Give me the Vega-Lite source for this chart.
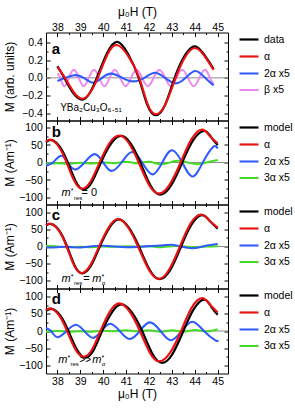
{
"$schema": "https://vega.github.io/schema/vega-lite/v6.json",
"padding": {"left": 2, "top": 4.5, "right": 0, "bottom": 0},
"background": "white",
"spacing": 0,
"bounds": "flush",
"config": {
 "font": "Liberation Sans",
 "view": {"stroke": "#000", "strokeWidth": 1},
 "axis": {"grid": false, "domain": false, "tickColor": "#000", "tickWidth": 1, "labelColor": "#000", "labelFontSize": 10.5, "labelOverlap": false, "labelFlush": false, "titleFontSize": 12, "titleFontWeight": "normal", "titleColor": "#000"},
 "legend": {"symbolType": "stroke", "symbolStrokeWidth": 2, "symbolSize": 360, "labelFontSize": 10.5, "labelColor": "#000", "rowPadding": -6, "padding": 0, "labelOffset": 4}
},
"datasets": {
 "a": [
  {"x":38.0,"y":0.05,"s":"β x5"},{"x":38.12,"y":0,"s":"β x5"},{"x":38.3,"y":-0.095,"s":"β x5"},{"x":38.5,"y":0,"s":"β x5"},{"x":38.72,"y":0.09,"s":"β x5"},{"x":38.93,"y":0,"s":"β x5"},{"x":39.15,"y":-0.095,"s":"β x5"},{"x":39.37,"y":0,"s":"β x5"},{"x":39.6,"y":0.09,"s":"β x5"},{"x":39.82,"y":0,"s":"β x5"},{"x":40.05,"y":-0.095,"s":"β x5"},{"x":40.28,"y":0,"s":"β x5"},{"x":40.5,"y":0.09,"s":"β x5"},{"x":40.74,"y":0,"s":"β x5"},{"x":40.98,"y":-0.095,"s":"β x5"},{"x":41.22,"y":0,"s":"β x5"},{"x":41.46,"y":0.09,"s":"β x5"},{"x":41.7,"y":0,"s":"β x5"},{"x":41.95,"y":-0.095,"s":"β x5"},{"x":42.2,"y":0,"s":"β x5"},{"x":42.45,"y":0.09,"s":"β x5"},{"x":42.7,"y":0,"s":"β x5"},{"x":42.95,"y":-0.095,"s":"β x5"},{"x":43.2,"y":0,"s":"β x5"},{"x":43.45,"y":0.09,"s":"β x5"},{"x":43.7,"y":0,"s":"β x5"},{"x":43.95,"y":-0.095,"s":"β x5"},{"x":44.2,"y":0,"s":"β x5"},{"x":44.45,"y":0.09,"s":"β x5"},{"x":44.66,"y":0,"s":"β x5"},{"x":44.82,"y":-0.07,"s":"β x5"},
  {"x":38.0,"y":-0.035,"s":"2α x5"},{"x":38.35,"y":0,"s":"2α x5"},{"x":38.75,"y":0.03,"s":"2α x5"},{"x":39.15,"y":0,"s":"2α x5"},{"x":39.57,"y":-0.055,"s":"2α x5"},{"x":39.95,"y":0,"s":"2α x5"},{"x":40.36,"y":0.047,"s":"2α x5"},{"x":40.83,"y":0,"s":"2α x5"},{"x":41.3,"y":-0.04,"s":"2α x5"},{"x":41.8,"y":0,"s":"2α x5"},{"x":42.25,"y":0.058,"s":"2α x5"},{"x":42.7,"y":0,"s":"2α x5"},{"x":43.16,"y":-0.062,"s":"2α x5"},{"x":43.6,"y":0,"s":"2α x5"},{"x":44.03,"y":0.077,"s":"2α x5"},{"x":44.45,"y":0,"s":"2α x5"},{"x":44.82,"y":-0.085,"s":"2α x5"},
  {"x":38.0,"y":0.13,"s":"data"},{"x":38.3,"y":0,"s":"data"},{"x":38.7,"y":-0.175,"s":"data"},{"x":39.1,"y":-0.245,"s":"data"},{"x":39.41,"y":-0.17,"s":"data"},{"x":39.72,"y":0,"s":"data"},{"x":40.17,"y":0.28,"s":"data"},{"x":40.62,"y":0.405,"s":"data"},{"x":41.08,"y":0.27,"s":"data"},{"x":41.55,"y":0,"s":"data"},{"x":41.92,"y":-0.3,"s":"data"},{"x":42.3,"y":-0.42,"s":"data"},{"x":42.71,"y":-0.3,"s":"data"},{"x":43.12,"y":0,"s":"data"},{"x":43.56,"y":0.25,"s":"data"},{"x":44.0,"y":0.355,"s":"data"},{"x":44.41,"y":0.26,"s":"data"},{"x":44.82,"y":0.1,"s":"data"},
  {"x":38.0,"y":0.12,"s":"α"},{"x":38.33,"y":0,"s":"α"},{"x":38.72,"y":-0.165,"s":"α"},{"x":39.1,"y":-0.235,"s":"α"},{"x":39.43,"y":-0.165,"s":"α"},{"x":39.76,"y":0,"s":"α"},{"x":40.18,"y":0.26,"s":"α"},{"x":40.6,"y":0.37,"s":"α"},{"x":41.08,"y":0.25,"s":"α"},{"x":41.57,"y":0,"s":"α"},{"x":41.93,"y":-0.29,"s":"α"},{"x":42.3,"y":-0.41,"s":"α"},{"x":42.73,"y":-0.29,"s":"α"},{"x":43.16,"y":0,"s":"α"},{"x":43.58,"y":0.235,"s":"α"},{"x":44.0,"y":0.335,"s":"α"},{"x":44.41,"y":0.25,"s":"α"},{"x":44.82,"y":0.09,"s":"α"}
 ],
 "b": [
  {"x":37.5,"y":-5,"s":"3α x5"},{"x":38.0,"y":-2,"s":"3α x5"},{"x":38.5,"y":-4,"s":"3α x5"},{"x":39.0,"y":-1,"s":"3α x5"},{"x":39.5,"y":-3,"s":"3α x5"},{"x":40.0,"y":0,"s":"3α x5"},{"x":40.5,"y":-2,"s":"3α x5"},{"x":41.0,"y":2,"s":"3α x5"},{"x":41.5,"y":-2,"s":"3α x5"},{"x":42.0,"y":2,"s":"3α x5"},{"x":42.5,"y":-5,"s":"3α x5"},{"x":43.0,"y":2,"s":"3α x5"},{"x":43.3,"y":5,"s":"3α x5"},{"x":43.7,"y":0,"s":"3α x5"},{"x":44.1,"y":-5,"s":"3α x5"},{"x":44.5,"y":0,"s":"3α x5"},{"x":45.0,"y":7,"s":"3α x5"},
  {"x":37.5,"y":-9,"s":"2α x5"},{"x":37.8,"y":0,"s":"2α x5"},{"x":38.15,"y":19,"s":"2α x5"},{"x":38.45,"y":0,"s":"2α x5"},{"x":38.77,"y":-20,"s":"2α x5"},{"x":39.18,"y":0,"s":"2α x5"},{"x":39.62,"y":24,"s":"2α x5"},{"x":40.0,"y":0,"s":"2α x5"},{"x":40.36,"y":-24,"s":"2α x5"},{"x":40.8,"y":0,"s":"2α x5"},{"x":41.25,"y":30,"s":"2α x5"},{"x":41.7,"y":0,"s":"2α x5"},{"x":42.15,"y":-34,"s":"2α x5"},{"x":42.58,"y":0,"s":"2α x5"},{"x":43.0,"y":35,"s":"2α x5"},{"x":43.45,"y":0,"s":"2α x5"},{"x":43.9,"y":-40,"s":"2α x5"},{"x":44.35,"y":0,"s":"2α x5"},{"x":44.8,"y":44,"s":"2α x5"},{"x":45.0,"y":40,"s":"2α x5"},
  {"x":37.5,"y":58,"s":"model"},{"x":37.75,"y":64,"s":"model"},{"x":38.1,"y":45,"s":"model"},{"x":38.45,"y":0,"s":"model"},{"x":38.8,"y":-54,"s":"model"},{"x":39.15,"y":-77,"s":"model"},{"x":39.52,"y":-54,"s":"model"},{"x":39.9,"y":0,"s":"model"},{"x":40.34,"y":54,"s":"model"},{"x":40.78,"y":76,"s":"model"},{"x":41.2,"y":54,"s":"model"},{"x":41.62,"y":0,"s":"model"},{"x":42.06,"y":-65,"s":"model"},{"x":42.5,"y":-92,"s":"model"},{"x":42.97,"y":-65,"s":"model"},{"x":43.45,"y":0,"s":"model"},{"x":43.93,"y":64,"s":"model"},{"x":44.42,"y":90,"s":"model"},{"x":44.72,"y":72,"s":"model"},{"x":45.0,"y":50,"s":"model"},
  {"x":37.5,"y":60,"s":"α"},{"x":37.72,"y":65,"s":"α"},{"x":38.06,"y":45,"s":"α"},{"x":38.4,"y":0,"s":"α"},{"x":38.74,"y":-53,"s":"α"},{"x":39.08,"y":-75,"s":"α"},{"x":39.46,"y":-53,"s":"α"},{"x":39.84,"y":0,"s":"α"},{"x":40.27,"y":55,"s":"α"},{"x":40.7,"y":77,"s":"α"},{"x":41.12,"y":55,"s":"α"},{"x":41.55,"y":0,"s":"α"},{"x":41.99,"y":-63,"s":"α"},{"x":42.43,"y":-89,"s":"α"},{"x":42.9,"y":-63,"s":"α"},{"x":43.38,"y":0,"s":"α"},{"x":43.85,"y":66,"s":"α"},{"x":44.32,"y":94,"s":"α"},{"x":44.66,"y":75,"s":"α"},{"x":45.0,"y":55,"s":"α"}
 ],
 "c": [
  {"x":37.5,"y":2,"s":"3α x5"},{"x":38.0,"y":0,"s":"3α x5"},{"x":38.5,"y":-2,"s":"3α x5"},{"x":39.0,"y":-1,"s":"3α x5"},{"x":39.5,"y":-2,"s":"3α x5"},{"x":40.0,"y":0,"s":"3α x5"},{"x":40.5,"y":-1,"s":"3α x5"},{"x":41.0,"y":1,"s":"3α x5"},{"x":41.5,"y":-1,"s":"3α x5"},{"x":42.0,"y":1,"s":"3α x5"},{"x":42.5,"y":-2,"s":"3α x5"},{"x":43.0,"y":1,"s":"3α x5"},{"x":43.5,"y":0,"s":"3α x5"},{"x":44.0,"y":-2,"s":"3α x5"},{"x":44.5,"y":0,"s":"3α x5"},{"x":45.0,"y":1,"s":"3α x5"},
  {"x":37.5,"y":-3,"s":"2α x5"},{"x":38.0,"y":-2,"s":"2α x5"},{"x":38.5,"y":-1,"s":"2α x5"},{"x":39.0,"y":-3,"s":"2α x5"},{"x":39.5,"y":1,"s":"2α x5"},{"x":40.0,"y":2,"s":"2α x5"},{"x":40.5,"y":0,"s":"2α x5"},{"x":41.0,"y":-2,"s":"2α x5"},{"x":41.5,"y":-1,"s":"2α x5"},{"x":42.0,"y":1,"s":"2α x5"},{"x":42.5,"y":3,"s":"2α x5"},{"x":43.0,"y":5,"s":"2α x5"},{"x":43.4,"y":0,"s":"2α x5"},{"x":43.9,"y":-5,"s":"2α x5"},{"x":44.4,"y":1,"s":"2α x5"},{"x":45.0,"y":7,"s":"2α x5"},
  {"x":37.5,"y":61,"s":"model"},{"x":37.74,"y":65,"s":"model"},{"x":38.08,"y":46,"s":"model"},{"x":38.42,"y":0,"s":"model"},{"x":38.75,"y":-55,"s":"model"},{"x":39.08,"y":-78,"s":"model"},{"x":39.47,"y":-55,"s":"model"},{"x":39.85,"y":0,"s":"model"},{"x":40.27,"y":55,"s":"model"},{"x":40.68,"y":79,"s":"model"},{"x":41.12,"y":55,"s":"model"},{"x":41.56,"y":0,"s":"model"},{"x":42.02,"y":-67,"s":"model"},{"x":42.47,"y":-95,"s":"model"},{"x":42.94,"y":-67,"s":"model"},{"x":43.4,"y":0,"s":"model"},{"x":43.86,"y":64,"s":"model"},{"x":44.32,"y":91,"s":"model"},{"x":44.67,"y":73,"s":"model"},{"x":45.0,"y":52,"s":"model"},
  {"x":37.5,"y":62,"s":"α"},{"x":37.72,"y":66,"s":"α"},{"x":38.06,"y":46,"s":"α"},{"x":38.4,"y":0,"s":"α"},{"x":38.72,"y":-54,"s":"α"},{"x":39.05,"y":-77,"s":"α"},{"x":39.44,"y":-54,"s":"α"},{"x":39.82,"y":0,"s":"α"},{"x":40.24,"y":56,"s":"α"},{"x":40.65,"y":80,"s":"α"},{"x":41.08,"y":56,"s":"α"},{"x":41.52,"y":0,"s":"α"},{"x":41.98,"y":-66,"s":"α"},{"x":42.43,"y":-94,"s":"α"},{"x":42.89,"y":-66,"s":"α"},{"x":43.35,"y":0,"s":"α"},{"x":43.8,"y":65,"s":"α"},{"x":44.25,"y":93,"s":"α"},{"x":44.63,"y":76,"s":"α"},{"x":45.0,"y":55,"s":"α"}
 ],
 "d": [
  {"x":37.5,"y":-2,"s":"3α x5"},{"x":38.0,"y":0,"s":"3α x5"},{"x":38.5,"y":-2,"s":"3α x5"},{"x":39.0,"y":-1,"s":"3α x5"},{"x":39.5,"y":-2,"s":"3α x5"},{"x":40.0,"y":1,"s":"3α x5"},{"x":40.5,"y":-1,"s":"3α x5"},{"x":41.0,"y":2,"s":"3α x5"},{"x":41.5,"y":-1,"s":"3α x5"},{"x":42.0,"y":2,"s":"3α x5"},{"x":42.5,"y":-2,"s":"3α x5"},{"x":43.0,"y":2,"s":"3α x5"},{"x":43.5,"y":-2,"s":"3α x5"},{"x":44.0,"y":3,"s":"3α x5"},{"x":44.5,"y":-1,"s":"3α x5"},{"x":45.0,"y":5,"s":"3α x5"},
  {"x":37.5,"y":9,"s":"2α x5"},{"x":37.72,"y":0,"s":"2α x5"},{"x":38.0,"y":-18,"s":"2α x5"},{"x":38.4,"y":0,"s":"2α x5"},{"x":38.8,"y":18,"s":"2α x5"},{"x":39.17,"y":0,"s":"2α x5"},{"x":39.55,"y":-20,"s":"2α x5"},{"x":39.92,"y":0,"s":"2α x5"},{"x":40.3,"y":21,"s":"2α x5"},{"x":40.72,"y":0,"s":"2α x5"},{"x":41.15,"y":-23,"s":"2α x5"},{"x":41.6,"y":0,"s":"2α x5"},{"x":42.03,"y":25,"s":"2α x5"},{"x":42.5,"y":0,"s":"2α x5"},{"x":42.95,"y":-27,"s":"2α x5"},{"x":43.42,"y":0,"s":"2α x5"},{"x":43.9,"y":27,"s":"2α x5"},{"x":44.4,"y":0,"s":"2α x5"},{"x":44.9,"y":-27,"s":"2α x5"},{"x":45.0,"y":-26,"s":"2α x5"},
  {"x":37.5,"y":58,"s":"model"},{"x":37.75,"y":64,"s":"model"},{"x":38.12,"y":45,"s":"model"},{"x":38.48,"y":0,"s":"model"},{"x":38.85,"y":-54,"s":"model"},{"x":39.22,"y":-77,"s":"model"},{"x":39.59,"y":-54,"s":"model"},{"x":39.95,"y":0,"s":"model"},{"x":40.38,"y":54,"s":"model"},{"x":40.8,"y":77,"s":"model"},{"x":41.25,"y":54,"s":"model"},{"x":41.7,"y":0,"s":"model"},{"x":42.14,"y":-65,"s":"model"},{"x":42.58,"y":-92,"s":"model"},{"x":43.04,"y":-65,"s":"model"},{"x":43.5,"y":0,"s":"model"},{"x":43.96,"y":64,"s":"model"},{"x":44.42,"y":91,"s":"model"},{"x":44.72,"y":70,"s":"model"},{"x":45.0,"y":47,"s":"model"},
  {"x":37.5,"y":60,"s":"α"},{"x":37.72,"y":65,"s":"α"},{"x":38.07,"y":45,"s":"α"},{"x":38.42,"y":0,"s":"α"},{"x":38.78,"y":-53,"s":"α"},{"x":39.15,"y":-75,"s":"α"},{"x":39.52,"y":-53,"s":"α"},{"x":39.88,"y":0,"s":"α"},{"x":40.29,"y":56,"s":"α"},{"x":40.7,"y":80,"s":"α"},{"x":41.15,"y":56,"s":"α"},{"x":41.6,"y":0,"s":"α"},{"x":42.03,"y":-62,"s":"α"},{"x":42.45,"y":-88,"s":"α"},{"x":42.93,"y":-62,"s":"α"},{"x":43.4,"y":0,"s":"α"},{"x":43.86,"y":67,"s":"α"},{"x":44.32,"y":95,"s":"α"},{"x":44.67,"y":76,"s":"α"},{"x":45.0,"y":54,"s":"α"}
 ]
},
"vconcat": [
 {"width": 182, "height": 88,
  "layer": [
   {"data": {"values": [{"z": 0}]}, "mark": {"type": "rule", "color": "#8c8c8c", "strokeWidth": 1},
    "encoding": {"y": {"field": "z", "type": "quantitative", "scale": {"domain": [-0.48, 0.51], "nice": false, "zero": false},
      "axis": {"orient": "right", "values": [-0.4,-0.2,0,0.2,0.4], "labels": false, "title": null, "offset": -4, "tickSize": 4}}}},
   {"data": {"name": "a"}, "mark": {"type": "line", "interpolate": "natural"},
    "encoding": {
     "x": {"field": "x", "type": "quantitative", "scale": {"domain": [37.5, 45.45], "nice": false, "zero": false},
       "axis": {"orient": "bottom", "values": [38,39,40,41,42,43,44,45], "labels": false, "title": null, "offset": -4, "tickSize": 4}},
     "y": {"field": "y", "type": "quantitative", "scale": {"domain": [-0.48, 0.51], "nice": false, "zero": false},
       "axis": {"orient": "left", "values": [-0.4,-0.2,0,0.2,0.4], "format": ".1f", "labelPadding": 3.7, "title": "M (arb. units)", "titleX": -36.7, "titleY": 44, "titleBaseline": "alphabetic", "offset": -4, "tickSize": 4}},
     "color": {"field": "s", "type": "nominal", "scale": {"domain": ["data", "α", "2α x5", "β x5"], "range": ["#000000", "#ee1111", "#2f5bff", "#ee88ee"]}, "legend": {"title": null, "orient": "none", "legendX": 192, "legendY": -4}},
     "strokeWidth": {"field": "s", "type": "nominal", "scale": {"domain": ["data", "α", "2α x5", "β x5"], "range": [2.2, 2, 1.6, 1.8]}, "legend": null}
    }},
   {"data": {"values": [{"x": 37.75, "y": 0.265, "t": "a"}]}, "mark": {"type": "text", "fontWeight": "bold", "fontSize": 15, "align": "left", "baseline": "alphabetic"},
    "encoding": {
     "x": {"field": "x", "type": "quantitative", "scale": {"domain": [37.5, 45.45], "nice": false, "zero": false},
       "axis": {"orient": "top", "values": [38,39,40,41,42,43,44,45], "format": "d", "labelPadding": 0.3, "title": "μ₀H (T)", "titleX": 91, "titleY": -21, "titleBaseline": "alphabetic", "offset": -4, "tickSize": 4}},
     "y": {"field": "y", "type": "quantitative", "scale": {"domain": [-0.48, 0.51], "nice": false, "zero": false},
       "axis": {"orient": "right", "values": [-0.3,-0.1,0.1,0.3], "labels": false, "title": null, "offset": -2, "tickSize": 2}},
     "text": {"field": "t"}}},
   {"data": {"values": [{"x": 38.12, "y": -0.377, "t": "YBa₂Cu₃O₆.₅₁"}]}, "mark": {"type": "text", "fontSize": 10, "align": "left", "baseline": "alphabetic"},
    "encoding": {
     "x": {"field": "x", "type": "quantitative", "scale": {"domain": [37.5, 45.45], "nice": false, "zero": false},
       "axis": {"orient": "bottom", "values": [38.5,39.5,40.5,41.5,42.5,43.5,44.5], "labels": false, "title": null, "offset": -2, "tickSize": 2}},
     "y": {"field": "y", "type": "quantitative", "scale": {"domain": [-0.48, 0.51], "nice": false, "zero": false},
       "axis": {"orient": "left", "values": [-0.3,-0.1,0.1,0.3], "labels": false, "title": null, "offset": -2, "tickSize": 2}},
     "text": {"field": "t"}}},
   {"data": {"values": [{"x": 38.0, "y": 0}]}, "mark": {"type": "point", "opacity": 0},
    "encoding": {
     "x": {"field": "x", "type": "quantitative", "scale": {"domain": [37.5, 45.45], "nice": false, "zero": false},
       "axis": {"orient": "top", "values": [38.5,39.5,40.5,41.5,42.5,43.5,44.5], "labels": false, "title": null, "offset": -2, "tickSize": 2}},
     "y": {"field": "y", "type": "quantitative", "scale": {"domain": [-0.48, 0.51], "nice": false, "zero": false}, "axis": null}}}
  ],
  "resolve": {"axis": {"x": "independent", "y": "independent"}}
 },
 {"width": 182, "height": 84,
  "layer": [
   {"data": {"values": [{"z": 0}]}, "mark": {"type": "rule", "color": "#8c8c8c", "strokeWidth": 1},
    "encoding": {"y": {"field": "z", "type": "quantitative", "scale": {"domain": [-120, 120], "nice": false, "zero": false},
      "axis": {"orient": "right", "values": [-100,-50,0,50,100], "labels": false, "title": null, "offset": -4, "tickSize": 4}}}},
   {"data": {"name": "b"}, "mark": {"type": "line", "interpolate": "natural"},
    "encoding": {
     "x": {"field": "x", "type": "quantitative", "scale": {"domain": [37.5, 45.45], "nice": false, "zero": false},
       "axis": {"orient": "bottom", "values": [38,39,40,41,42,43,44,45], "labels": false, "title": null, "offset": -4, "tickSize": 4}},
     "y": {"field": "y", "type": "quantitative", "scale": {"domain": [-120, 120], "nice": false, "zero": false},
       "axis": {"orient": "left", "values": [-100,-50,0,50,100], "labelPadding": 3.7, "title": "M (Am⁻¹)", "titleX": -36.7, "titleY": 42, "titleBaseline": "alphabetic", "offset": -4, "tickSize": 4}},
     "color": {"field": "s", "type": "nominal", "scale": {"domain": ["model", "α", "2α x5", "3α x5"], "range": ["#000000", "#ee1111", "#2f5bff", "#44dd22"]}, "legend": {"title": null, "orient": "none", "legendX": 192, "legendY": -4}},
     "strokeWidth": {"field": "s", "type": "nominal", "scale": {"domain": ["model", "α", "2α x5", "3α x5"], "range": [2.2, 2, 1.6, 1.6]}, "legend": null}
    }},
   {"data": {"values": [{"x": 37.75, "y": 74, "t": "b"}]}, "mark": {"type": "text", "fontWeight": "bold", "fontSize": 15, "align": "left", "baseline": "alphabetic"},
    "encoding": {
     "x": {"field": "x", "type": "quantitative", "scale": {"domain": [37.5, 45.45], "nice": false, "zero": false},
       "axis": {"orient": "top", "values": [38,39,40,41,42,43,44,45], "labels": false, "title": null, "offset": -4, "tickSize": 4}},
     "y": {"field": "y", "type": "quantitative", "scale": {"domain": [-120, 120], "nice": false, "zero": false},
       "axis": {"orient": "right", "values": [-75,-25,25,75], "labels": false, "title": null, "offset": -2, "tickSize": 2}},
     "text": {"field": "t"}}},
   {"data": {"values": [{"x": 38.18, "y": -97, "t": "m"}]}, "mark": {"type": "text", "fontSize": 11, "fontStyle": "italic", "align": "left", "baseline": "alphabetic"},
    "encoding": {
     "x": {"field": "x", "type": "quantitative", "scale": {"domain": [37.5, 45.45], "nice": false, "zero": false},
       "axis": {"orient": "bottom", "values": [38.5,39.5,40.5,41.5,42.5,43.5,44.5], "labels": false, "title": null, "offset": -2, "tickSize": 2}},
     "y": {"field": "y", "type": "quantitative", "scale": {"domain": [-120, 120], "nice": false, "zero": false},
       "axis": {"orient": "left", "values": [-75,-25,25,75], "labels": false, "title": null, "offset": -2, "tickSize": 2}},
     "text": {"field": "t"}}},
   {"data": {"values": [{"x": 38.58, "y": -87, "t": "*"}]}, "mark": {"type": "text", "fontSize": 7, "align": "left", "baseline": "alphabetic"},
    "encoding": {
     "x": {"field": "x", "type": "quantitative", "scale": {"domain": [37.5, 45.45], "nice": false, "zero": false},
       "axis": {"orient": "top", "values": [38.5,39.5,40.5,41.5,42.5,43.5,44.5], "labels": false, "title": null, "offset": -2, "tickSize": 2}},
     "y": {"field": "y", "type": "quantitative", "scale": {"domain": [-120, 120], "nice": false, "zero": false}, "axis": null},
     "text": {"field": "t"}}},
   {"data": {"values": [{"x": 38.72, "y": -106, "t": "res"}]}, "mark": {"type": "text", "fontSize": 6, "align": "left", "baseline": "alphabetic"},
    "encoding": {"x": {"field": "x", "type": "quantitative", "scale": {"domain": [37.5, 45.45], "nice": false, "zero": false}, "axis": null}, "y": {"field": "y", "type": "quantitative", "scale": {"domain": [-120, 120], "nice": false, "zero": false}, "axis": null}, "text": {"field": "t"}}},
   {"data": {"values": [{"x": 39.05, "y": -97, "t": "= 0"}]}, "mark": {"type": "text", "fontSize": 11, "align": "left", "baseline": "alphabetic"},
    "encoding": {"x": {"field": "x", "type": "quantitative", "scale": {"domain": [37.5, 45.45], "nice": false, "zero": false}, "axis": null}, "y": {"field": "y", "type": "quantitative", "scale": {"domain": [-120, 120], "nice": false, "zero": false}, "axis": null}, "text": {"field": "t"}}}
  ],
  "resolve": {"axis": {"x": "independent", "y": "independent"}}
 },
 {"width": 182, "height": 84,
  "layer": [
   {"data": {"values": [{"z": 0}]}, "mark": {"type": "rule", "color": "#8c8c8c", "strokeWidth": 1},
    "encoding": {"y": {"field": "z", "type": "quantitative", "scale": {"domain": [-122, 122], "nice": false, "zero": false},
      "axis": {"orient": "right", "values": [-100,-50,0,50,100], "labels": false, "title": null, "offset": -4, "tickSize": 4}}}},
   {"data": {"name": "c"}, "mark": {"type": "line", "interpolate": "natural"},
    "encoding": {
     "x": {"field": "x", "type": "quantitative", "scale": {"domain": [37.5, 45.45], "nice": false, "zero": false},
       "axis": {"orient": "bottom", "values": [38,39,40,41,42,43,44,45], "labels": false, "title": null, "offset": -4, "tickSize": 4}},
     "y": {"field": "y", "type": "quantitative", "scale": {"domain": [-122, 122], "nice": false, "zero": false},
       "axis": {"orient": "left", "values": [-100,-50,0,50,100], "labelPadding": 3.7, "title": "M (Am⁻¹)", "titleX": -36.7, "titleY": 42, "titleBaseline": "alphabetic", "offset": -4, "tickSize": 4}},
     "color": {"field": "s", "type": "nominal", "scale": {"domain": ["model", "α", "2α x5", "3α x5"], "range": ["#000000", "#ee1111", "#2f5bff", "#44dd22"]}, "legend": {"title": null, "orient": "none", "legendX": 192, "legendY": -4}},
     "strokeWidth": {"field": "s", "type": "nominal", "scale": {"domain": ["model", "α", "2α x5", "3α x5"], "range": [2.2, 2, 1.6, 1.6]}, "legend": null}
    }},
   {"data": {"values": [{"x": 37.75, "y": 77, "t": "c"}]}, "mark": {"type": "text", "fontWeight": "bold", "fontSize": 15, "align": "left", "baseline": "alphabetic"},
    "encoding": {
     "x": {"field": "x", "type": "quantitative", "scale": {"domain": [37.5, 45.45], "nice": false, "zero": false},
       "axis": {"orient": "top", "values": [38,39,40,41,42,43,44,45], "labels": false, "title": null, "offset": -4, "tickSize": 4}},
     "y": {"field": "y", "type": "quantitative", "scale": {"domain": [-122, 122], "nice": false, "zero": false},
       "axis": {"orient": "right", "values": [-75,-25,25,75], "labels": false, "title": null, "offset": -2, "tickSize": 2}},
     "text": {"field": "t"}}},
   {"data": {"values": [{"x": 38.18, "y": -104, "t": "m"}, {"x": 39.52, "y": -104, "t": "m"}]}, "mark": {"type": "text", "fontSize": 11, "fontStyle": "italic", "align": "left", "baseline": "alphabetic"},
    "encoding": {
     "x": {"field": "x", "type": "quantitative", "scale": {"domain": [37.5, 45.45], "nice": false, "zero": false},
       "axis": {"orient": "bottom", "values": [38.5,39.5,40.5,41.5,42.5,43.5,44.5], "labels": false, "title": null, "offset": -2, "tickSize": 2}},
     "y": {"field": "y", "type": "quantitative", "scale": {"domain": [-122, 122], "nice": false, "zero": false},
       "axis": {"orient": "left", "values": [-75,-25,25,75], "labels": false, "title": null, "offset": -2, "tickSize": 2}},
     "text": {"field": "t"}}},
   {"data": {"values": [{"x": 38.58, "y": -94, "t": "*"}, {"x": 39.92, "y": -94, "t": "*"}]}, "mark": {"type": "text", "fontSize": 7, "align": "left", "baseline": "alphabetic"},
    "encoding": {
     "x": {"field": "x", "type": "quantitative", "scale": {"domain": [37.5, 45.45], "nice": false, "zero": false},
       "axis": {"orient": "top", "values": [38.5,39.5,40.5,41.5,42.5,43.5,44.5], "labels": false, "title": null, "offset": -2, "tickSize": 2}},
     "y": {"field": "y", "type": "quantitative", "scale": {"domain": [-122, 122], "nice": false, "zero": false}, "axis": null},
     "text": {"field": "t"}}},
   {"data": {"values": [{"x": 38.72, "y": -113, "t": "res"}, {"x": 39.94, "y": -113, "t": "α"}]}, "mark": {"type": "text", "fontSize": 6, "align": "left", "baseline": "alphabetic"},
    "encoding": {"x": {"field": "x", "type": "quantitative", "scale": {"domain": [37.5, 45.45], "nice": false, "zero": false}, "axis": null}, "y": {"field": "y", "type": "quantitative", "scale": {"domain": [-122, 122], "nice": false, "zero": false}, "axis": null}, "text": {"field": "t"}}},
   {"data": {"values": [{"x": 39.13, "y": -104, "t": "="}]}, "mark": {"type": "text", "fontSize": 11, "align": "left", "baseline": "alphabetic"},
    "encoding": {"x": {"field": "x", "type": "quantitative", "scale": {"domain": [37.5, 45.45], "nice": false, "zero": false}, "axis": null}, "y": {"field": "y", "type": "quantitative", "scale": {"domain": [-122, 122], "nice": false, "zero": false}, "axis": null}, "text": {"field": "t"}}}
  ],
  "resolve": {"axis": {"x": "independent", "y": "independent"}}
 },
 {"width": 182, "height": 85,
  "layer": [
   {"data": {"values": [{"z": 0}]}, "mark": {"type": "rule", "color": "#8c8c8c", "strokeWidth": 1},
    "encoding": {"y": {"field": "z", "type": "quantitative", "scale": {"domain": [-123, 123], "nice": false, "zero": false},
      "axis": {"orient": "right", "values": [-100,-50,0,50,100], "labels": false, "title": null, "offset": -4, "tickSize": 4}}}},
   {"data": {"name": "d"}, "mark": {"type": "line", "interpolate": "natural"},
    "encoding": {
     "x": {"field": "x", "type": "quantitative", "scale": {"domain": [37.5, 45.45], "nice": false, "zero": false},
       "axis": {"orient": "bottom", "values": [38,39,40,41,42,43,44,45], "format": "d", "labelPadding": 3.2, "title": "μ₀H (T)", "titleX": 91, "titleY": 28.3, "titleBaseline": "alphabetic", "offset": -4, "tickSize": 4}},
     "y": {"field": "y", "type": "quantitative", "scale": {"domain": [-123, 123], "nice": false, "zero": false},
       "axis": {"orient": "left", "values": [-100,-50,0,50,100], "labelPadding": 3.7, "title": "M (Am⁻¹)", "titleX": -36.7, "titleY": 42.5, "titleBaseline": "alphabetic", "offset": -4, "tickSize": 4}},
     "color": {"field": "s", "type": "nominal", "scale": {"domain": ["model", "α", "2α x5", "3α x5"], "range": ["#000000", "#ee1111", "#2f5bff", "#44dd22"]}, "legend": {"title": null, "orient": "none", "legendX": 192, "legendY": -4}},
     "strokeWidth": {"field": "s", "type": "nominal", "scale": {"domain": ["model", "α", "2α x5", "3α x5"], "range": [2.2, 2, 1.6, 1.6]}, "legend": null}
    }},
   {"data": {"values": [{"x": 37.75, "y": 79, "t": "d"}]}, "mark": {"type": "text", "fontWeight": "bold", "fontSize": 15, "align": "left", "baseline": "alphabetic"},
    "encoding": {
     "x": {"field": "x", "type": "quantitative", "scale": {"domain": [37.5, 45.45], "nice": false, "zero": false},
       "axis": {"orient": "top", "values": [38,39,40,41,42,43,44,45], "labels": false, "title": null, "offset": -4, "tickSize": 4}},
     "y": {"field": "y", "type": "quantitative", "scale": {"domain": [-123, 123], "nice": false, "zero": false},
       "axis": {"orient": "right", "values": [-75,-25,25,75], "labels": false, "title": null, "offset": -2, "tickSize": 2}},
     "text": {"field": "t"}}},
   {"data": {"values": [{"x": 38.04, "y": -93, "t": "m"}, {"x": 39.52, "y": -93, "t": "m"}]}, "mark": {"type": "text", "fontSize": 11, "fontStyle": "italic", "align": "left", "baseline": "alphabetic"},
    "encoding": {
     "x": {"field": "x", "type": "quantitative", "scale": {"domain": [37.5, 45.45], "nice": false, "zero": false},
       "axis": {"orient": "bottom", "values": [38.5,39.5,40.5,41.5,42.5,43.5,44.5], "labels": false, "title": null, "offset": -2, "tickSize": 2}},
     "y": {"field": "y", "type": "quantitative", "scale": {"domain": [-123, 123], "nice": false, "zero": false},
       "axis": {"orient": "left", "values": [-75,-25,25,75], "labels": false, "title": null, "offset": -2, "tickSize": 2}},
     "text": {"field": "t"}}},
   {"data": {"values": [{"x": 38.44, "y": -83, "t": "*"}, {"x": 39.92, "y": -83, "t": "*"}]}, "mark": {"type": "text", "fontSize": 7, "align": "left", "baseline": "alphabetic"},
    "encoding": {
     "x": {"field": "x", "type": "quantitative", "scale": {"domain": [37.5, 45.45], "nice": false, "zero": false},
       "axis": {"orient": "top", "values": [38.5,39.5,40.5,41.5,42.5,43.5,44.5], "labels": false, "title": null, "offset": -2, "tickSize": 2}},
     "y": {"field": "y", "type": "quantitative", "scale": {"domain": [-123, 123], "nice": false, "zero": false}, "axis": null},
     "text": {"field": "t"}}},
   {"data": {"values": [{"x": 38.57, "y": -102, "t": "res"}, {"x": 39.94, "y": -102, "t": "α"}]}, "mark": {"type": "text", "fontSize": 6, "align": "left", "baseline": "alphabetic"},
    "encoding": {"x": {"field": "x", "type": "quantitative", "scale": {"domain": [37.5, 45.45], "nice": false, "zero": false}, "axis": null}, "y": {"field": "y", "type": "quantitative", "scale": {"domain": [-123, 123], "nice": false, "zero": false}, "axis": null}, "text": {"field": "t"}}},
   {"data": {"values": [{"x": 38.96, "y": -93, "t": ">>"}]}, "mark": {"type": "text", "fontSize": 10, "align": "left", "baseline": "alphabetic"},
    "encoding": {"x": {"field": "x", "type": "quantitative", "scale": {"domain": [37.5, 45.45], "nice": false, "zero": false}, "axis": null}, "y": {"field": "y", "type": "quantitative", "scale": {"domain": [-123, 123], "nice": false, "zero": false}, "axis": null}, "text": {"field": "t"}}}
  ],
  "resolve": {"axis": {"x": "independent", "y": "independent"}}
 }
],
"resolve": {"scale": {"color": "independent", "strokeWidth": "independent", "x": "independent", "y": "independent"}}
}
